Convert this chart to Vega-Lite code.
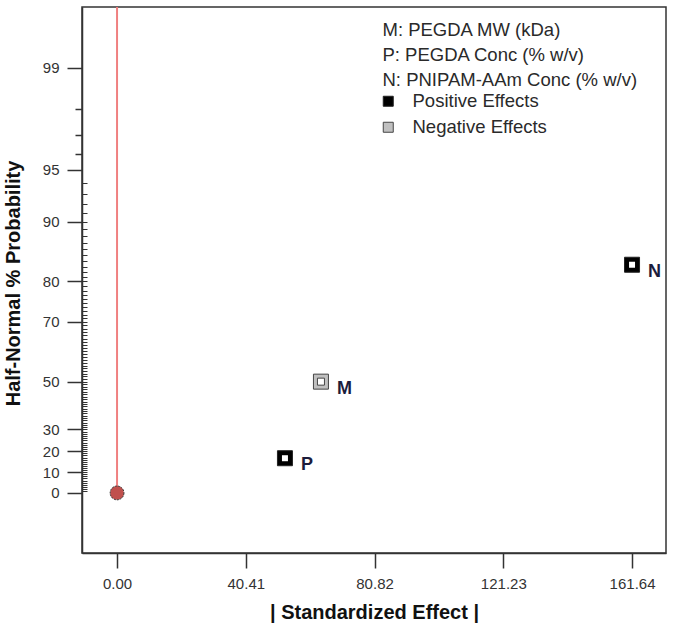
{
  "$schema": "https://vega.github.io/schema/vega-lite/v6.json",
  "width": 584,
  "height": 546,
  "autosize": {"type": "none"},
  "padding": {"left": 82, "top": 7, "right": 9, "bottom": 76},
  "background": "white",
  "config": {
    "view": {"stroke": "#333", "strokeWidth": 1.5},
    "font": "Liberation Sans",
    "axis": {
      "domainColor": "#333", "domainWidth": 1.5, "tickColor": "#333", "tickWidth": 1.5,
      "labelFont": "Liberation Sans", "labelFontSize": 15, "labelColor": "#333",
      "titleFont": "Liberation Sans", "titleFontSize": 20, "titleFontWeight": "bold", "titleColor": "#111",
      "grid": false
    }
  },
  "data": {"values": [
    {"name": "M", "effect": 64.0, "z": 0.67449, "sign": "Negative Effects"},
    {"name": "P", "effect": 52.7, "z": 0.2104, "sign": "Positive Effects"},
    {"name": "N", "effect": 161.64, "z": 1.38299, "sign": "Positive Effects"}
  ]},
  "encoding": {
    "x": {
      "field": "effect", "type": "quantitative",
      "scale": {"domain": [-11, 172.3], "nice": false, "zero": false},
      "axis": {
        "values": [0, 40.41, 80.82, 121.23, 161.64], "format": ".2f",
        "tickSize": 15, "labelPadding": 8,
        "title": "| Standardized Effect |", "titleBaseline": "middle", "titleY": 59, "titleX": 292, "titleAlign": "center"
      }
    }
  },
  "layer": [
    {
      "data": {"values": [{"effect": 0, "z": 0, "ztop": 2.945}]},
      "mark": {"type": "rule", "color": "#f08080", "strokeWidth": 2},
      "encoding": {
        "y": {
          "field": "z", "type": "quantitative",
          "scale": {"domain": [-0.364, 2.945], "nice": false, "zero": false},
          "axis": {
            "orient": "left", "offset": -5,
            "values": [0.01253,0.02507,0.03761,0.05015,0.06271,0.07527,0.08784,0.10043,0.11304,0.12566,0.1383,0.15097,0.16366,0.17637,0.18912,0.20189,0.2147,0.22754,0.24043,0.25335,0.26631,0.27932,0.29237,0.30548,0.31864,0.33185,0.34513,0.35846,0.37186,0.38532,0.39886,0.41246,0.42615,0.43991,0.45376,0.4677,0.48173,0.49585,0.51007,0.5244,0.53884,0.55338,0.56805,0.58284,0.59776,0.61281,0.62801,0.64335,0.65884,0.67449,0.69031,0.7063,0.72248,0.73885,0.75542,0.77219,0.78919,0.80642,0.82389,0.84162,0.85962,0.8779,0.89647,0.91537,0.93459,0.95417,0.97411,0.99446,1.01522,1.03643,1.05812,1.08032,1.10306,1.12639,1.15035,1.17499,1.20036,1.22653,1.25357,1.28155,1.31058,1.34076,1.3722,1.40507,1.43953,1.47579,1.5141,1.55477,1.59819,1.64485,1.6954,1.75069,1.81191,1.88079],
            "tickSize": 5, "tickWidth": 1, "labels": false, "domain": false, "title": null
          }
        },
        "y2": {"field": "ztop"}
      }
    },
    {
      "data": {"values": [{"effect": 0, "z": 0}]},
      "mark": {"type": "point", "shape": "circle", "filled": true, "fill": "#c0504d", "stroke": "#333", "strokeWidth": 1, "strokeDash": [2, 1], "size": 190, "opacity": 1},
      "encoding": {
        "y": {
          "field": "z", "type": "quantitative",
          "scale": {"domain": [-0.364, 2.945], "nice": false, "zero": false},
          "axis": {"orient": "left", "values": [2.05375, 2.17009, 2.32635], "tickSize": 7, "labels": false, "domain": false, "title": null}
        }
      }
    },
    {
      "mark": {"type": "point", "shape": "square", "filled": true, "size": 225, "strokeWidth": 1, "opacity": 1},
      "encoding": {
        "y": {
          "field": "z", "type": "quantitative",
          "scale": {"domain": [-0.364, 2.945], "nice": false, "zero": false},
          "axis": {
            "orient": "left",
            "values": [0, 0.12566, 0.25335, 0.38532, 0.67449, 1.03643, 1.28155, 1.64485, 1.95996, 2.57583],
            "labelExpr": "datum.value < 0.06 ? '0' : datum.value < 0.2 ? '10' : datum.value < 0.3 ? '20' : datum.value < 0.5 ? '30' : datum.value < 0.8 ? '50' : datum.value < 1.1 ? '70' : datum.value < 1.4 ? '80' : datum.value < 1.8 ? '90' : datum.value < 2.2 ? '95' : '99'",
            "tickSize": 15, "labelPadding": 8,
            "title": "Half-Normal % Probability", "titleX": -68.5, "titleY": 276, "titleBaseline": "middle", "titleAlign": "center", "titleAngle": -90
          }
        },
        "fill": {
          "field": "sign", "type": "nominal",
          "scale": {"domain": ["Positive Effects", "Negative Effects"], "range": ["#000000", "#c0c0c0"]},
          "legend": {
            "orient": "none", "legendX": 297, "legendY": 85, "title": null,
            "symbolType": "square", "symbolSize": 100,
            "labelFontSize": 18.5, "labelColor": "#2a2a2a", "labelFont": "Liberation Sans", "labelOffset": 15, "labelLimit": 400,
            "rowPadding": 7, "padding": 0, "symbolStrokeWidth": 1
          }
        },
        "stroke": {
          "field": "sign", "type": "nominal",
          "scale": {"domain": ["Positive Effects", "Negative Effects"], "range": ["#222222", "#444444"]},
          "legend": {
            "orient": "none", "legendX": 297, "legendY": 85, "title": null,
            "symbolType": "square", "symbolSize": 100,
            "labelFontSize": 18.5, "labelColor": "#2a2a2a", "labelFont": "Liberation Sans", "labelOffset": 15, "labelLimit": 400,
            "rowPadding": 7, "padding": 0, "symbolStrokeWidth": 1
          }
        }
      }
    },
    {
      "mark": {"type": "point", "filled": true, "fill": "white", "stroke": "#444", "strokeWidth": 1, "opacity": 1},
      "encoding": {
        "y": {"field": "z", "type": "quantitative", "scale": {"domain": [-0.364, 2.945], "nice": false, "zero": false}, "axis": null},
        "size": {"condition": {"test": "datum.sign === 'Negative Effects'", "value": 49}, "value": 36},
        "strokeOpacity": {"condition": {"test": "datum.sign === 'Negative Effects'", "value": 1}, "value": 0},
        "shape": {
          "field": "name", "type": "nominal",
          "scale": {"domain": ["M", "P", "N"], "range": ["square", "square", "square"]},
          "legend": {
            "orient": "none", "legendX": 282, "legendY": 14, "title": null,
            "symbolSize": 1, "symbolOpacity": 0, "symbolStrokeWidth": 0,
            "labelOffset": 0, "labelFontSize": 18.5, "labelColor": "#2a2a2a", "labelFont": "Liberation Sans", "labelLimit": 400,
            "rowPadding": 6, "padding": 0,
            "labelExpr": "datum.value == 'M' ? 'M: PEGDA MW (kDa)' : datum.value == 'P' ? 'P: PEGDA Conc (% w/v)' : 'N: PNIPAM-AAm Conc (% w/v)'"
          }
        }
      }
    },
    {
      "mark": {"type": "text", "align": "left", "baseline": "middle", "dx": 16, "dy": 7, "fontSize": 18, "fontWeight": "bold", "color": "#1c1c3c", "font": "Liberation Sans"},
      "encoding": {
        "y": {"field": "z", "type": "quantitative", "scale": {"domain": [-0.364, 2.945], "nice": false, "zero": false}, "axis": null},
        "text": {"field": "name"}
      }
    }
  ],
  "resolve": {"axis": {"y": "independent"}}
}
